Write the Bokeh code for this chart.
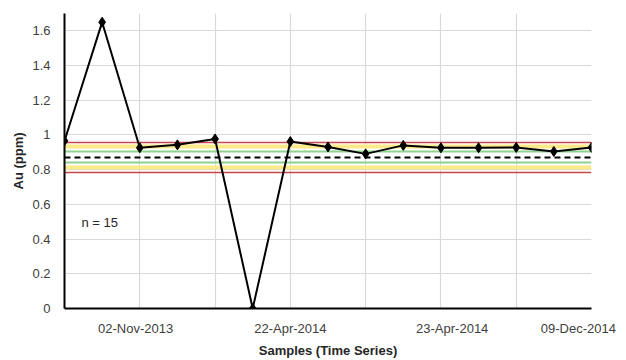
from bokeh.plotting import figure
from bokeh.models import (ColumnDataSource, FixedTicker, Label,
                          CustomJSTickFormatter, Range1d)
from bokeh.embed import file_html
from bokeh.resources import INLINE

# ---- data ----
sample_index = list(range(15))
au_ppm = [0.966, 1.65, 0.926, 0.943, 0.977, 0.0, 0.962, 0.931, 0.891,
          0.940, 0.926, 0.926, 0.928, 0.905, 0.928]

mean_line = 0.870
green_limits = [0.903, 0.839]
yellow_limits = [0.933, 0.812]
red_limits = [0.958, 0.781]

x_tick_positions = [1.89, 6, 10.3, 13.65]
x_tick_labels = ["02-Nov-2013", "22-Apr-2014", "23-Apr-2014", "09-Dec-2014"]
y_ticks = [0, 0.2, 0.4, 0.6, 0.8, 1.0, 1.2, 1.4, 1.6]
n_text = "n = 15"

FONT = "Liberation Sans"

p = figure(width=626, height=360, output_backend="svg", toolbar_location=None,
           x_range=Range1d(0, 14), y_range=Range1d(0, 1.7),
           min_border_left=64, min_border_right=35, min_border_top=13,
           min_border_bottom=50)
p.outline_line_color = None
p.background_fill_color = "white"

# control lines (glyphs so that the data line is drawn on top)
p.hspan(y=yellow_limits, line_color="#fbe98a", line_width=4)
p.hspan(y=red_limits, line_color="#c8464a", line_width=1.6)
p.hspan(y=green_limits, line_color="#8fd18f", line_width=1.8)
p.hspan(y=[mean_line], line_color="black", line_width=2, line_dash="6 4")

src = ColumnDataSource(dict(x=sample_index, y=au_ppm))
p.line("x", "y", source=src, line_color="black", line_width=2)
p.scatter("x", "y", source=src, marker="diamond", size=10, fill_color="black",
          line_color="black")

p.add_layout(Label(x=0.45, y=0.497, text=n_text, text_font=FONT,
                   text_font_size="13px", text_color="#262626",
                   text_baseline="middle", text_align="left"))

# axes
p.xaxis.ticker = FixedTicker(ticks=x_tick_positions)
p.xaxis.major_label_overrides = {k: v for k, v in zip(x_tick_positions, x_tick_labels)}
p.yaxis.ticker = FixedTicker(ticks=y_ticks)
p.yaxis.formatter = CustomJSTickFormatter(code="return tick.toFixed(1).replace(/\\.0$/, '');")

p.xgrid.ticker = FixedTicker(ticks=[0, 2, 4, 6, 8, 10, 12, 14])
p.xgrid.grid_line_color = "#d9d9d9"
p.ygrid.grid_line_color = "#d9d9d9"
p.xgrid.grid_line_width = 1.2
p.ygrid.grid_line_width = 1.2

for ax in (p.xaxis[0], p.yaxis[0]):
    ax.axis_line_color = "black"
    ax.axis_line_width = 2
    ax.major_tick_line_color = None
    ax.minor_tick_line_color = None
    ax.major_label_text_font = FONT
    ax.major_label_text_font_size = "13px"
    ax.major_label_text_color = "#404040"
    ax.axis_label_text_font = FONT
    ax.axis_label_text_font_size = "13px"
    ax.axis_label_text_font_style = "bold"
    ax.axis_label_text_color = "#262626"

p.xaxis.axis_label = "Samples (Time Series)"
p.yaxis.axis_label = "Au (ppm)"
p.xaxis.major_label_standoff = 6
p.xaxis.axis_label_standoff = 4
p.yaxis.major_label_standoff = 8
p.yaxis.axis_label_standoff = 3

open("out.html", "w").write(file_html(p, INLINE))
